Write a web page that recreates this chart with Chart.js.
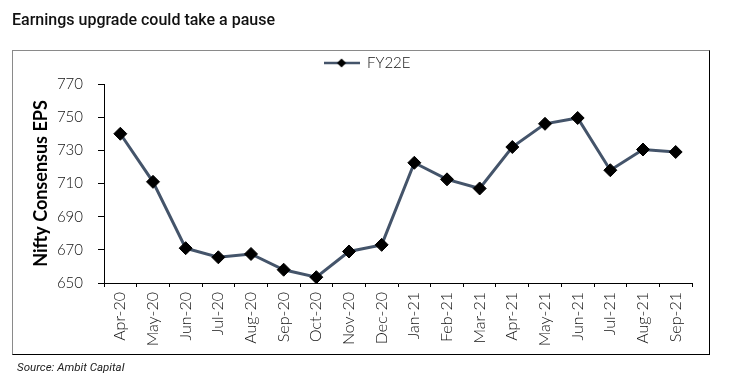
<!DOCTYPE html>
<html><head><meta charset="utf-8">
<script src="https://cdn.jsdelivr.net/npm/chart.js@4.4.1/dist/chart.umd.min.js"></script>
<style>
html,body{margin:0;padding:0;background:#fff;}
#wrap{position:relative;width:748px;height:383px;overflow:hidden;background:#fff;}
#frame{position:absolute;left:12px;top:50px;width:698px;height:305px;box-sizing:border-box;border-top:1px solid #8a8a8a;border-left:1px solid #8a8a8a;border-right:1px solid #000;border-bottom:1px solid #000;pointer-events:none;}
#c{position:absolute;left:0;top:0;}
#title{position:absolute;left:12px;top:12px;font:500 16px Roboto;line-height:16px;color:#111;white-space:nowrap;}
#source{position:absolute;left:17px;top:361px;font:italic 11.5px Roboto;line-height:13px;color:#222;white-space:nowrap;}
</style></head>
<body>
<div id="wrap">
  <div id="frame"></div>
  <canvas id="c" width="748" height="383"></canvas>
  <div id="title">Earnings upgrade could take a pause</div>
  <div id="source">Source: Ambit Capital</div>
</div>
<script>
// ---- data ----
const categories = ["Apr-20","May-20","Jun-20","Jul-20","Aug-20","Sep-20","Oct-20","Nov-20","Dec-20",
                    "Jan-21","Feb-21","Mar-21","Apr-21","May-21","Jun-21","Jul-21","Aug-21","Sep-21"];
const seriesName = "FY22E";
const fy22e = [740, 711, 671, 665.5, 667.5, 658, 653.5, 669, 673, 722.5, 712.5, 707, 732, 746, 749.5, 718, 730.5, 729];
const yMin = 650, yMax = 770, yStep = 20;
const yTitle = "Nifty Consensus EPS";

// ---- styles ----
const LINE = "#44546A";
const TICK_FONT = "Lato";

// legend symbol: line with diamond marker
const legendImg = document.createElement("canvas");
legendImg.width = 36; legendImg.height = 12;
(function(){
  const g = legendImg.getContext("2d");
  g.strokeStyle = LINE; g.lineWidth = 2.5;
  g.beginPath(); g.moveTo(0,6); g.lineTo(36,6); g.stroke();
  g.fillStyle = "#000";
  g.beginPath(); g.moveTo(18,1.5); g.lineTo(22.5,6); g.lineTo(18,10.5); g.lineTo(13.5,6); g.closePath(); g.fill();
})();

const legendNudge = {
  id: "legendNudge",
  afterLayout(chart){ const l = chart.legend; if (l){ l.top -= 3.5; l.bottom -= 3.5; } }
};

new Chart(document.getElementById("c"), {
  type: "line",
  data: {
    labels: categories,
    datasets: [{
      label: seriesName,
      data: fy22e,
      borderColor: LINE,
      borderWidth: 3,
      tension: 0,
      pointStyle: "rectRot",
      pointRadius: 6.5,
      pointBackgroundColor: "#000",
      pointBorderColor: "#000",
      pointBorderWidth: 1,
      clip: false
    }]
  },
  options: {
    responsive: false,
    animation: false,
    devicePixelRatio: 1,
    events: [],
    layout: { padding: { top: 49, left: 0, right: 14, bottom: 0 } },
    plugins: {
      tooltip: { enabled: false },
      legend: {
        display: true,
        position: "top",
        align: "center",
        labels: {
          usePointStyle: true,
          pointStyle: legendImg,
          pointStyleWidth: 36,
          padding: 10,
          color: "#111",
          font: { family: TICK_FONT, size: 15, weight: 300 }
        }
      }
    },
    scales: {
      x: {
        offset: true,
        ticks: {
          autoSkip: false, minRotation: 90, maxRotation: 90,
          color: "#111", font: { family: TICK_FONT, size: 16, weight: 300 }, padding: 5
        },
        grid: { display: true, offset: true, drawOnChartArea: false, drawTicks: true, tickLength: 4, color: "#000" },
        border: { display: true, color: "#000", width: 1 },
        afterFit(s){ s.height = 100; }
      },
      y: {
        min: yMin, max: yMax,
        ticks: { stepSize: yStep, color: "#111", font: { family: TICK_FONT, size: 15, weight: 300 }, padding: 15 },
        grid: { display: true, drawOnChartArea: false, drawTicks: true, tickLength: 6, color: "#000" },
        border: { display: true, color: "#000", width: 1 },
        title: { display: true, text: yTitle, color: "#000",
                 font: { family: TICK_FONT, size: 18, weight: "bold" }, padding: { top: 30, bottom: 0 } },
        afterFit(s){ s.width = 104; }
      },
      yR: {
        position: "right",
        display: true,
        grid: { display: false, drawTicks: false },
        border: { display: false },
        ticks: { display: false },
        afterFit(s){ s.width = 42; }
      }
    }
  },
  plugins: [legendNudge]
});
</script>
</body></html>
